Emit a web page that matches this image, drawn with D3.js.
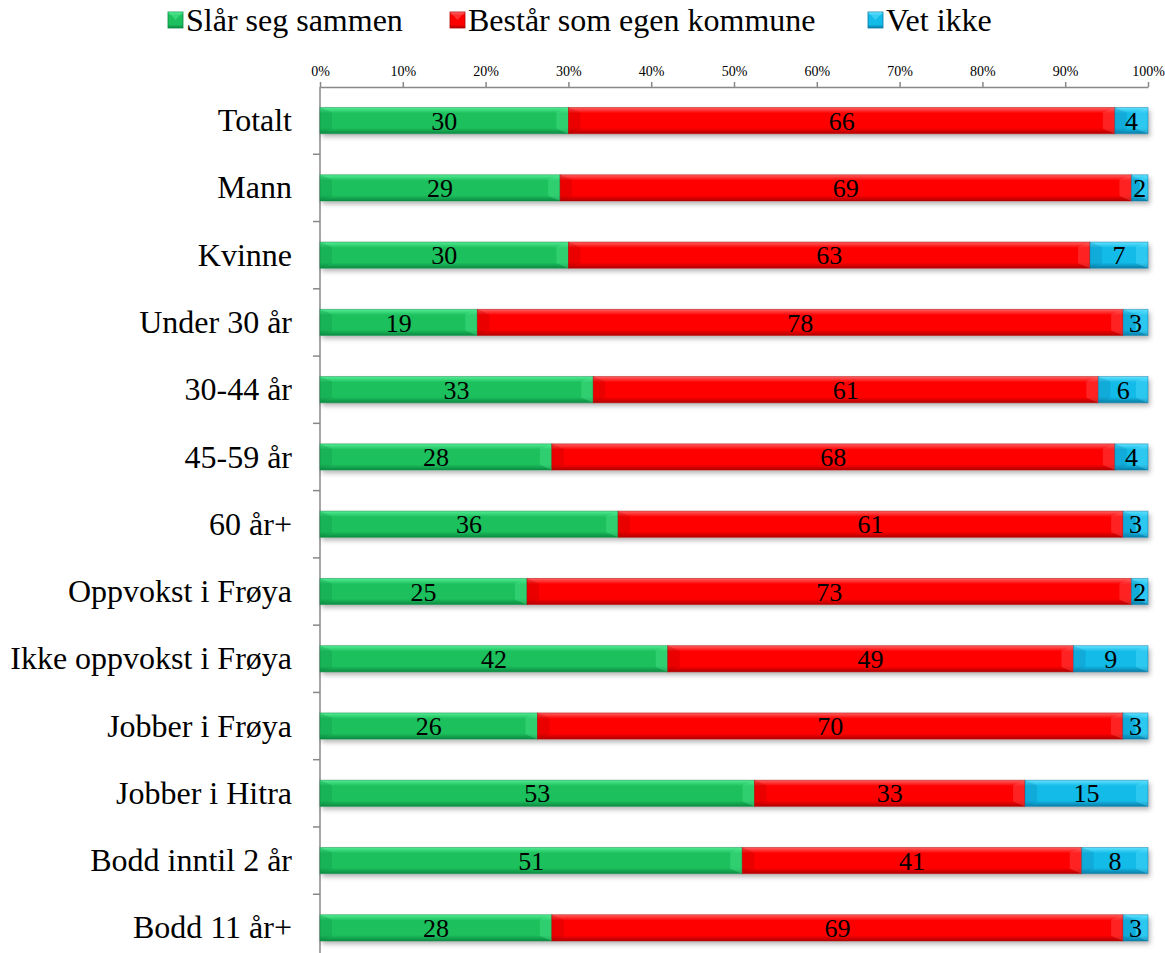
<!DOCTYPE html>
<html><head><meta charset="utf-8">
<script src="https://cdn.jsdelivr.net/npm/d3@7"></script>
<style>body{margin:0;background:#fff}</style>
</head><body><svg id="c" width="1165" height="953"></svg>
<script>
const categories=["Totalt","Mann","Kvinne","Under 30 år","30-44 år","45-59 år","60 år+","Oppvokst i Frøya","Ikke oppvokst i Frøya","Jobber i Frøya","Jobber i Hitra","Bodd inntil 2 år","Bodd 11 år+"];
const series=["Slår seg sammen","Består som egen kommune","Vet ikke"];
const slarSeg=[30,29,30,19,33,28,36,25,42,26,53,51,28];
const bestar=[66,69,63,78,61,68,61,73,49,70,33,41,69];
const vetIkke=[4,2,7,3,6,4,3,2,9,3,15,8,3];
const tickLabels=["0%","10%","20%","30%","40%","50%","60%","70%","80%","90%","100%"];
const colors=[{base:"#1cc05c",light:"#52ec94",dark:"#0b8a42"},{base:"#ff0000",light:"#ff6060",dark:"#b00000"},{base:"#12bbe8",light:"#62e2ff",dark:"#0a7ca6"}];
const FONT="'Liberation Serif','Times New Roman',serif";

const svg=d3.select("#c");
const defs=svg.append("defs");
colors.forEach((c,i)=>{
  const g=defs.append("linearGradient").attr("id","g"+i).attr("x1",0).attr("y1",0).attr("x2",0).attr("y2",1);
  g.append("stop").attr("offset","0").attr("stop-color",c.light);
  g.append("stop").attr("offset","0.22").attr("stop-color",c.base);
  g.append("stop").attr("offset","0.78").attr("stop-color",c.base);
  g.append("stop").attr("offset","1").attr("stop-color",c.dark);
});
const f=defs.append("filter").attr("id","sh").attr("x","-5%").attr("y","-50%").attr("width","110%").attr("height","220%");
f.append("feDropShadow").attr("dx",2).attr("dy",3).attr("stdDeviation",2.5).attr("flood-color","#000").attr("flood-opacity",0.3);

const x=d3.scaleLinear().domain([0,1]).range([320,1148]);
const y=d3.scaleBand().domain(categories).range([87,961.5]).paddingInner(0.61).paddingOuter(0.305);
const step=y.step();

// top axis
const ax=svg.append("g").attr("transform","translate(0,87)")
  .call(d3.axisTop(x).tickValues(d3.range(0,1.01,0.1)).tickFormat((d,i)=>tickLabels[i]).tickSize(5).tickSizeOuter(0));
ax.attr("font-family",FONT);
ax.select(".domain").attr("stroke","#888").attr("stroke-width",1.5);
ax.selectAll(".tick line").attr("stroke","#888").attr("stroke-width",1.5);
ax.selectAll(".tick text").attr("font-size",14).attr("fill","#000").attr("font-family",FONT).attr("dy","-0.25em");

// left axis line + separators
svg.append("line").attr("x1",320).attr("x2",320).attr("y1",87).attr("y2",953).attr("stroke","#888").attr("stroke-width",1.5);
categories.forEach((c,i)=>{
  if(i===0)return;
  const yy=y(c)-y.paddingInner()*step/2;
  svg.append("line").attr("x1",313).attr("x2",320).attr("y1",yy).attr("y2",yy).attr("stroke","#888").attr("stroke-width",1.5);
});
// category labels
svg.append("g").selectAll("text").data(categories).join("text")
  .attr("x",292).attr("y",d=>y(d)+y.bandwidth()/2).attr("dy","0.33em")
  .attr("text-anchor","end").attr("font-size",32).attr("font-family",FONT).text(d=>d);

// stacked data
const rows=categories.map((c,i)=>({cat:c,vals:[slarSeg[i],bestar[i],vetIkke[i]]}));
const bars=svg.append("g");
rows.forEach(r=>{
  const tot=d3.sum(r.vals);
  let acc=0;
  const g=bars.append("g");
  const segs=r.vals.map((v,k)=>{const s={k,v,x0:x(acc/tot),x1:x((acc+v)/tot)};acc+=v;return s;});
  const y0=y(r.cat),h=y.bandwidth();
  g.append("rect").attr("x",segs[0].x0).attr("y",y0).attr("width",segs[2].x1-segs[0].x0).attr("height",h).attr("fill","#fff").attr("filter","url(#sh)");
  segs.forEach(s=>{
    const w=s.x1-s.x0,c=colors[s.k];
    g.append("rect").attr("x",s.x0).attr("y",y0).attr("width",w).attr("height",h).attr("fill","url(#g"+s.k+")");
    const b=Math.min(12,w/2),bv=5;
    g.append("polygon").attr("points",[[s.x0,y0],[s.x0+b,y0+bv],[s.x0+b,y0+h-bv],[s.x0,y0+h]].join(" ")).attr("fill",c.dark).attr("opacity",0.25);
    g.append("polygon").attr("points",[[s.x1,y0],[s.x1-b,y0+bv],[s.x1-b,y0+h-bv],[s.x1,y0+h]].join(" ")).attr("fill",c.light).attr("opacity",0.35);
    g.append("rect").attr("x",s.x0).attr("y",y0).attr("width",w).attr("height",h).attr("fill","none").attr("stroke",c.dark).attr("stroke-width",0.8).attr("stroke-opacity",0.6);
    g.append("text").attr("x",(s.x0+s.x1)/2).attr("y",y0+h/2).attr("dy","0.35em").attr("text-anchor","middle").attr("font-size",26).attr("font-family",FONT).text(s.v);
  });
});

// legend
const legX=[168,450,868];
series.forEach((s,i)=>{
  const c=colors[i];
  svg.append("rect").attr("x",legX[i]).attr("y",12).attr("width",15).attr("height",16).attr("fill","url(#g"+i+")").attr("stroke",c.dark).attr("stroke-width",0.8);
  svg.append("polygon").attr("points",[[legX[i],12],[legX[i]+15,12],[legX[i]+7.5,20]].join(" ")).attr("fill",c.light).attr("opacity",0.5);
  svg.append("text").attr("x",legX[i]+18).attr("y",20).attr("dy","0.33em").attr("font-size",32).attr("font-family",FONT).text(s);
});
</script></body></html>
